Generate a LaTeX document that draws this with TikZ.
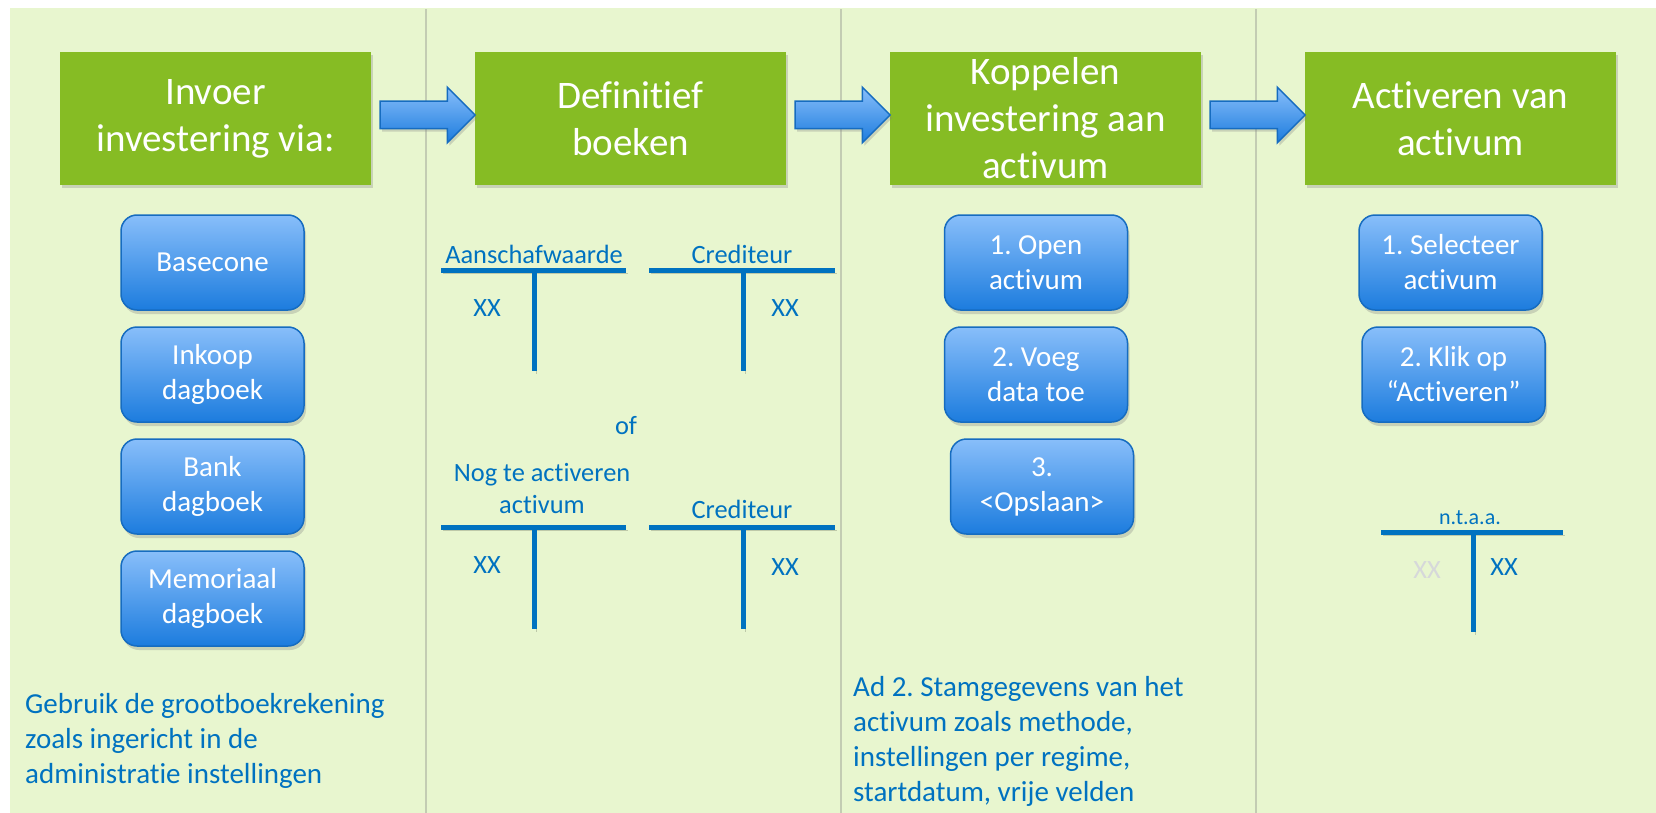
\documentclass[tikz,border=0pt]{standalone}
\usepackage{fontspec}
\setmainfont{Carlito}[Ligatures=NoCommon]
\usetikzlibrary{shapes.arrows,shadows,calc}

\definecolor{panelgreen}{RGB}{232,246,207}
\definecolor{headgreen}{RGB}{134,188,36}
\definecolor{btntop}{RGB}{136,190,250}
\definecolor{btnbot}{RGB}{28,124,222}
\definecolor{btnline}{RGB}{22,108,192}
\definecolor{tblue}{RGB}{0,114,192}
\definecolor{xxgray}{RGB}{214,216,218}

\tikzset{
	panel/.style={fill=panelgreen, drop shadow={shadow xshift=2pt, shadow yshift=-1pt, opacity=.35}},
	header/.style={fill=headgreen, text=white, align=center, inner sep=0pt,
		minimum width=311pt, minimum height=133pt, font=\fontsize{39}{47}\selectfont,
		drop shadow={shadow xshift=1.5pt, shadow yshift=-3pt, opacity=.3}},
	button/.style={rounded corners=16pt, top color=btntop, bottom color=btnbot,
		draw=btnline, line width=1.5pt, text=white, align=center, inner sep=0pt,
		minimum width=183pt, minimum height=95pt, font=\fontsize{29}{35}\selectfont,
		drop shadow={shadow xshift=2pt, shadow yshift=-4pt, opacity=.3}},
	flowarrow/.style={single arrow, single arrow head extend=14pt, inner sep=13pt,
		minimum height=95pt, minimum width=54pt, top color=btntop, bottom color=btnbot,
		draw=btnline, line width=1.5pt,
		drop shadow={shadow xshift=2pt, shadow yshift=-3pt, opacity=.3}},
	tbar/.style={line width=5pt, draw=tblue,
		preaction={draw=black, draw opacity=.18, transform canvas={shift={(2pt,-3pt)}}}},
	tlabel/.style={text=tblue, inner sep=0pt, font=\fontsize{26.4}{31.5}\selectfont},
	note/.style={text=tblue, align=left, inner sep=0pt, anchor=north west,
		font=\fontsize{29}{35}\selectfont},
}

\begin{document}
\frenchspacing
\begin{tikzpicture}[x=1pt, y=-1pt]
	\fill[white] (0,0) rectangle (1656,813);
	\useasboundingbox (0,0) rectangle (1656,813);

	% panels, right to left so each edge shadow stays visible
	\fill[panel] (1255,8) rectangle (1670,813);
	\fill[panel] (840,8) rectangle (1255,813);
	\fill[panel] (425,8) rectangle (840,813);
	\fill[panel] (10,8) rectangle (425,813);

	% steps
	\node[header] (h1) at (215.5,118.5) {Invoer\\investering via:};
	\node[header] (h2) at (630.5,118.5) {Definitief\\boeken};
	\node[header] (h3) at (1045.5,118.5) {Koppelen\\investering aan\\activum};
	\node[header] (h4) at (1460.5,118.5) {Activeren van\\activum};

	\node[flowarrow] (a1) at ($(h1.east)+(49.5,-3.5)$) {};
	\node[flowarrow] (a2) at ($(h2.east)+(49.5,-3.5)$) {};
	\node[flowarrow] (a3) at ($(h3.east)+(49.5,-3.5)$) {};

	% invoer
	\node[button] (b1) at (212.5,262.5) {Basecone};
	\node[button] (b2) at (212.5,374.5) {Inkoop\\dagboek};
	\node[button] (b3) at (212.5,486.5) {Bank\\dagboek};
	\node[button] (b4) at (212.5,598.5) {Memoriaal\\dagboek};
	\node[note] (n1) at (25,693) {Gebruik de grootboekrekening\\zoals ingericht in de\\administratie instellingen};

	% definitief boeken
	\coordinate (t1l) at (441,270);
	\coordinate (t1r) at (626,270);
	\coordinate (t1m) at (534,270);
	\coordinate (t1b) at (534,371);
	\coordinate (t2l) at (649,270);
	\coordinate (t2r) at (835,270);
	\coordinate (t2m) at (743,270);
	\coordinate (t2b) at (743,371);
	\draw[tbar] (t1l) -- (t1r);
	\draw[tbar] (t1m) -- (t1b);
	\draw[tbar] (t2l) -- (t2r);
	\draw[tbar] (t2m) -- (t2b);
	\node[tlabel, anchor=base] (l1) at (534,263) {Aanschafwaarde};
	\node[tlabel, anchor=base] (l2) at (742,263) {Crediteur};
	\node[tlabel] (x1) at (487,308) {XX};
	\node[tlabel] (x2) at (785,308) {XX};
	\node[tlabel] (of) at (626,426) {of};

	\coordinate (t3l) at (441,527);
	\coordinate (t3r) at (626,527);
	\coordinate (t3m) at (534,527);
	\coordinate (t3b) at (534,629);
	\coordinate (t4l) at (649,527);
	\coordinate (t4r) at (835,527);
	\coordinate (t4m) at (743,527);
	\coordinate (t4b) at (743,629);
	\draw[tbar] (t3l) -- (t3r);
	\draw[tbar] (t3m) -- (t3b);
	\draw[tbar] (t4l) -- (t4r);
	\draw[tbar] (t4m) -- (t4b);
	\node[tlabel, align=center, anchor=base] (l3) at (542,513) {Nog te activeren\\activum};
	\node[tlabel, anchor=base] (l4) at (742,518) {Crediteur};
	\node[tlabel] (x3) at (487,565) {XX};
	\node[tlabel] (x4) at (785,567) {XX};

	% koppelen
	\node[button] (k1) at (1036,262.5) {1. Open\\activum};
	\node[button] (k2) at (1036,374.5) {2. Voeg\\data toe};
	\node[button] (k3) at (1042,486.5) {3.\\<Opslaan>};
	\node[note] (n3) at (853,676) {Ad 2. Stamgegevens van het\\activum zoals methode,\\instellingen per regime,\\startdatum, vrije velden};

	% activeren
	\node[button] (s1) at (1450.5,262.5) {1. Selecteer\\activum};
	\node[button] (s2) at (1453.5,374.5) {2. Klik op\\“Activeren”};
	\coordinate (t5l) at (1381,532);
	\coordinate (t5r) at (1563,532);
	\coordinate (t5m) at (1473,532);
	\coordinate (t5b) at (1473,632);
	\draw[tbar] (t5l) -- (t5r);
	\draw[tbar] (t5m) -- (t5b);
	\node[tlabel, font=\fontsize{22}{26}\selectfont, anchor=base] (l5) at (1470,524) {n.t.a.a.};
	\node[tlabel, text=xxgray] (x5) at (1427,570) {XX};
	\node[tlabel] (x6) at (1504,567) {XX};
\end{tikzpicture}
\end{document}
